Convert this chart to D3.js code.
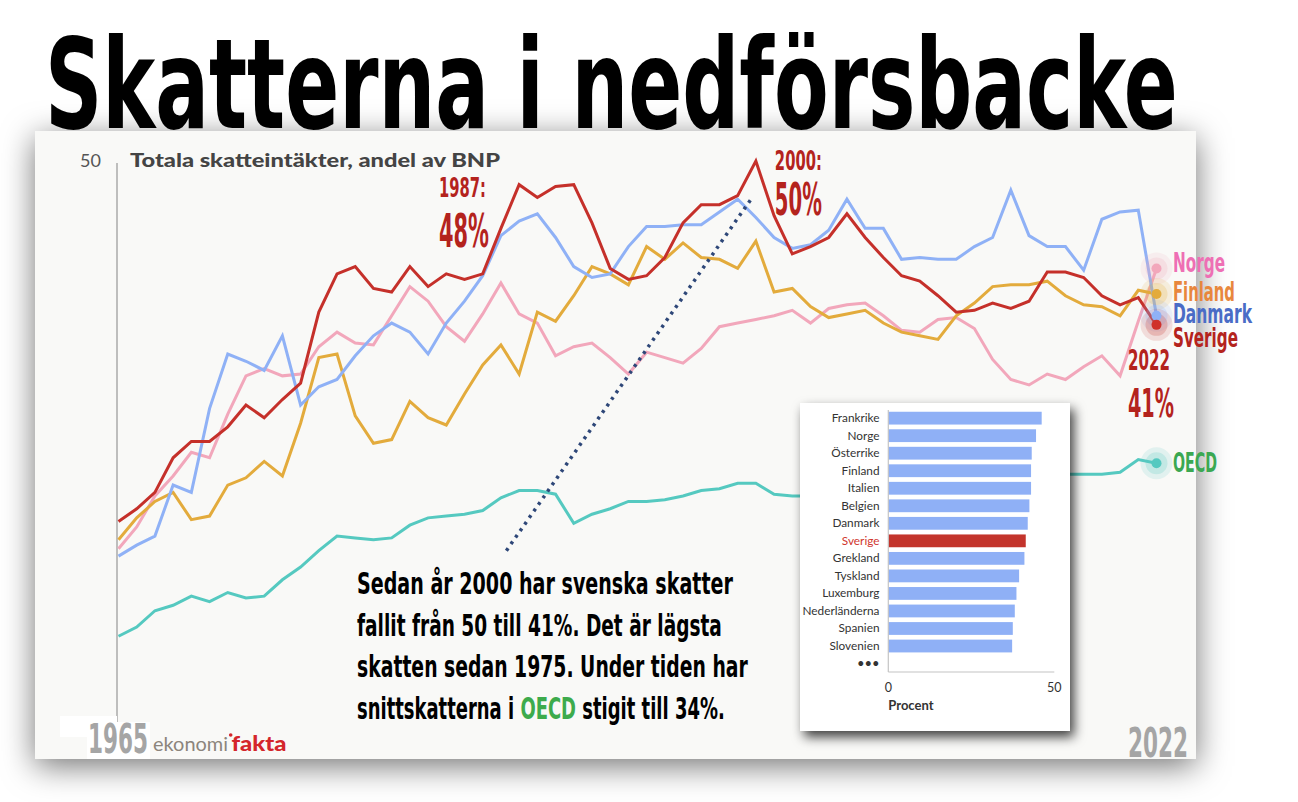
<!DOCTYPE html>
<html lang="sv">
<head>
<meta charset="utf-8">
<title>Skatterna i nedförsbacke</title>
<script src="https://cdn.jsdelivr.net/npm/d3@7"></script>
<style>
  html, body { margin: 0; padding: 0; background: #fff; }
  svg { display: block; }
</style>
</head>
<body>
<svg id="chart" width="1298" height="802"></svg>
<script>
// Totala skatteintäkter, andel av BNP (%), 1965-2022
const years = d3.range(1965, 2023);

const sverige = [30.2, 30.9, 31.8, 33.7, 34.6, 34.6, 35.4, 36.6, 35.9, 36.9,
                 37.8, 41.7, 43.8, 44.2, 43.0, 42.8, 44.2, 43.1, 43.8, 43.5,
                 43.8, 46.3, 48.7, 48.0, 48.6, 48.7, 46.6, 44.1, 43.5, 43.7,
                 44.7, 46.6, 47.6, 47.6, 48.1, 50.0, 47.0, 44.9, 45.3, 45.8,
                 47.1, 45.8, 44.7, 43.7, 43.4, 42.6, 41.7, 41.8, 42.2, 41.9,
                 42.3, 43.9, 43.9, 43.6, 42.6, 42.1, 42.5, 41.0];
const danmark = [28.3, 28.9, 29.4, 32.2, 31.8, 36.4, 39.4, 39.0, 38.5, 40.4,
                 36.6, 37.6, 38.0, 39.3, 40.4, 41.1, 40.6, 39.4, 41.1, 42.3,
                 43.7, 45.9, 46.7, 47.1, 45.8, 44.2, 43.6, 43.8, 45.3, 46.4,
                 46.4, 46.5, 46.5, 47.2, 47.9, 46.9, 45.8, 45.2, 45.4, 46.2,
                 47.9, 46.3, 46.3, 44.6, 44.7, 44.6, 44.6, 45.3, 45.8, 48.4,
                 45.9, 45.3, 45.3, 44.0, 46.8, 47.2, 47.3, 41.5];
const norge = [28.7, 29.9, 31.6, 32.7, 34.0, 33.7, 36.1, 38.2, 38.6, 38.2,
               38.3, 39.8, 40.6, 40.0, 39.9, 41.5, 43.1, 42.3, 40.9, 40.1,
               41.6, 43.3, 41.6, 41.1, 39.3, 39.8, 40.0, 39.2, 38.3, 39.5,
               39.2, 38.9, 39.7, 40.9, 41.1, 41.3, 41.5, 41.8, 41.1, 41.9,
               42.1, 42.2, 41.5, 40.7, 40.6, 41.3, 41.4, 40.8, 39.1, 38.0,
               37.7, 38.3, 38.0, 38.7, 39.3, 38.2, 41.2, 44.1];
const finland = [29.2, 30.4, 31.3, 31.8, 30.3, 30.5, 32.2, 32.6, 33.5, 32.7,
                 35.6, 39.2, 39.4, 36.0, 34.5, 34.7, 36.8, 35.9, 35.5, 37.2,
                 38.8, 39.9, 38.3, 41.7, 41.2, 42.6, 44.2, 43.8, 43.2, 45.3,
                 44.6, 45.5, 44.7, 44.6, 44.1, 45.6, 42.8, 43.0, 42.0, 41.4,
                 41.6, 41.8, 41.1, 40.6, 40.4, 40.2, 41.5, 42.2, 43.1, 43.2,
                 43.2, 43.4, 42.6, 42.1, 42.0, 41.5, 42.9, 42.7];
const oecd = [23.9, 24.4, 25.3, 25.6, 26.1, 25.8, 26.3, 26.0, 26.1, 27.0,
              27.7, 28.6, 29.4, 29.3, 29.2, 29.3, 30.0, 30.4, 30.5, 30.6,
              30.8, 31.5, 31.9, 31.9, 31.7, 30.1, 30.6, 30.9, 31.3, 31.3,
              31.4, 31.6, 31.9, 32.0, 32.3, 32.3, 31.7, 31.6, 31.6, 31.7,
              32.0, 32.2, 32.2, 31.9, 31.4, 31.5, 31.7, 32.0, 32.2, 32.4,
              32.5, 32.6, 32.8, 32.8, 32.8, 32.9, 33.6, 33.4];

// infälld stapel: skatteintäkter 2022, procent av BNP
const barCountries = ['Frankrike', 'Norge', 'Österrike', 'Finland', 'Italien', 'Belgien', 'Danmark',
                      'Sverige', 'Grekland', 'Tyskland', 'Luxemburg', 'Nederländerna', 'Spanien', 'Slovenien'];
const barValues = [46.2, 44.5, 43.2, 43.0, 43.0, 42.5, 42.0, 41.4, 41.0, 39.4, 38.6, 38.1, 37.5, 37.3];
const barTicks = [0, 50];
const yTicks = [50];

// dotted trend arrow, in (year, percent)
const trendLine = [[1986.3, 28.6], [1999.8, 48.0]];

const COND = '"DejaVu Sans Condensed", "Liberation Sans Narrow", "Arial Narrow", sans-serif';
const SANS = 'Lato, "Open Sans", sans-serif';

const svg = d3.select('#chart');

const defs = svg.append('defs');
defs.append('filter')
    .attr('id', 'cardShadow')
    .attr('x', '-15%').attr('y', '-25%').attr('width', '130%').attr('height', '150%')
  .append('feDropShadow')
    .attr('dx', 0).attr('dy', 7).attr('stdDeviation', 16)
    .attr('flood-color', '#000').attr('flood-opacity', 0.55);
defs.append('filter')
    .attr('id', 'insetShadow')
    .attr('x', '-20%').attr('y', '-20%').attr('width', '150%').attr('height', '150%')
  .append('feDropShadow')
    .attr('dx', 4).attr('dy', 6).attr('stdDeviation', 6)
    .attr('flood-color', '#000').attr('flood-opacity', 0.75);

// condensed headline text: drawn at natural width, then squeezed to w
function condText(g, parts, x, y, size, w, fill) {
    const t = g.append('text')
        .attr('font-family', COND)
        .attr('font-weight', 'bold')
        .attr('font-size', size)
        .attr('fill', fill);
    (typeof parts === 'string' ? [[parts, fill]] : parts).forEach(([s, c]) => {
        t.append('tspan').attr('fill', c).text(s);
    });
    const len = t.node().getComputedTextLength();
    t.attr('transform', `translate(${x},${y}) scale(${w / len},1)`);
    return t;
}

// card
svg.append('rect')
    .attr('x', 35).attr('y', 131)
    .attr('width', 1161).attr('height', 628)
    .attr('fill', '#f9f9f7')
    .attr('filter', 'url(#cardShadow)');

// title
condText(svg, 'Skatterna i nedförsbacke', 45, 128, 125, 1133, '#000');

const x = d3.scaleLinear().domain([1965, 2022]).range([118.5, 1156.5]);
const y = d3.scaleLinear().domain([18.2, 50]).range([740, 161]);

// y axis (only the line and the 50 label)
svg.append('line')
    .attr('x1', x(1965) - 1.5).attr('x2', x(1965) - 1.5)
    .attr('y1', y(50) + 2).attr('y2', 722)
    .attr('stroke', '#aaa').attr('stroke-width', 1.5);
svg.selectAll('.ytick')
    .data(yTicks)
    .enter().append('text')
    .attr('class', 'ytick')
    .attr('x', 101).attr('y', d => y(d) + 6)
    .attr('text-anchor', 'end')
    .attr('font-family', SANS)
    .attr('font-size', 18)
    .attr('fill', '#555')
    .text(d => d);

svg.append('text')
    .attr('x', 130).attr('y', 167)
    .attr('font-family', SANS)
    .attr('font-weight', 900)
    .attr('font-size', 19)
    .attr('fill', '#444')
    .attr('textLength', 370)
    .attr('lengthAdjust', 'spacingAndGlyphs')
    .text('Totala skatteintäkter, andel av BNP');

const series = [
    { name: 'OECD', values: oecd, line: '#55c9c0', label: '#3ba852', ly: 472, lw: 44 },
    { name: 'Norge', values: norge, line: '#f2a7bb', label: '#ee6fb4', ly: 272, lw: 52 },
    { name: 'Finland', values: finland, line: '#e3ab3c', label: '#e8873d', ly: 301, lw: 62 },
    { name: 'Danmark', values: danmark, line: '#8fb1f6', label: '#4a6cc6', ly: 323, lw: 79 },
    { name: 'Sverige', values: sverige, line: '#c5302a', label: '#b4231d', ly: 347, lw: 65 }
];

const line = d3.line()
    .x((d, i) => x(years[i]))
    .y(d => y(d));

svg.append('g')
    .selectAll('path')
    .data(series)
    .enter().append('path')
    .attr('d', d => line(d.values))
    .attr('fill', 'none')
    .attr('stroke', d => d.line)
    .attr('stroke-width', 3)
    .attr('stroke-linejoin', 'miter');

// trend arrow
svg.append('line')
    .attr('x1', x(trendLine[0][0])).attr('y1', y(trendLine[0][1]))
    .attr('x2', x(trendLine[1][0])).attr('y2', y(trendLine[1][1]))
    .attr('stroke', '#2e4778')
    .attr('stroke-width', 3.5)
    .attr('stroke-dasharray', '3 5');

// end markers
const last = years.length - 1;
const ends = svg.append('g');
[[16, 0.14], [11, 0.22]].forEach(([r, op]) => {
    ends.selectAll(null)
        .data(series)
        .enter().append('circle')
        .attr('cx', x(2022))
        .attr('cy', d => y(d.values[last]))
        .attr('r', r)
        .attr('fill', d => d.line)
        .attr('opacity', op);
});
ends.selectAll(null)
    .data(series)
    .enter().append('circle')
    .attr('cx', x(2022))
    .attr('cy', d => y(d.values[last]))
    .attr('r', 5)
    .attr('fill', d => d.name === 'Sverige' ? '#d0312b' : d.line);

// series labels
series.forEach(s => {
    condText(svg, s.name, x(2022) + 16.5, s.ly, 26, s.lw, s.label);
});

// callouts
const red = '#b4231d';
condText(svg, '1987:', 439, 197, 27, 47, red);
condText(svg, '48%', 439, 247, 46, 50, red);
condText(svg, '2000:', x(2000) + 19, 170, 27, 47, red);
condText(svg, '50%', x(2000) + 19, 215, 44, 47, red);
condText(svg, '2022', 1128, 370, 29, 42, red);
condText(svg, '41%', 1128, 417, 39, 46, red);

// explanatory text
const para = [
    { t: 'Sedan år 2000 har svenska skatter', w: 376 },
    { t: 'fallit från 50 till 41%. Det är lägsta', w: 365 },
    { t: 'skatten sedan 1975. Under tiden har', w: 391 }
];
para.forEach((p, i) => condText(svg, p.t, 357, 594 + i * 41.5, 30, p.w, '#000'));
condText(svg, [['snittskatterna i ', '#000'], ['OECD', '#3dab4c'], [' stigit till 34%.', '#000']],
         357, 594 + 3 * 41.5, 30, 368, '#000');

// inset bar chart
const inset = svg.append('g');
inset.append('rect')
    .attr('x', 800).attr('y', 403)
    .attr('width', 270).attr('height', 328)
    .attr('fill', '#fff')
    .attr('filter', 'url(#insetShadow)');

const bx = d3.scaleLinear().domain([0, 50]).range([888.3, 1054.3]);
const by = d3.scaleBand()
    .domain(barCountries.concat(['•••']))
    .range([410, 671.7])
    .paddingInner(0.27)
    .paddingOuter(0.1);

inset.selectAll('.bar')
    .data(barCountries)
    .enter().append('rect')
    .attr('class', 'bar')
    .attr('x', bx(0))
    .attr('y', d => by(d))
    .attr('width', (d, i) => bx(barValues[i]) - bx(0))
    .attr('height', by.bandwidth())
    .attr('fill', d => d === 'Sverige' ? '#c3342c' : '#8fb0f6');

inset.selectAll('.blabel')
    .data(by.domain())
    .enter().append('text')
    .attr('class', 'blabel')
    .attr('x', 879.5)
    .attr('y', d => by(d) + by.bandwidth() / 2 + 4)
    .attr('text-anchor', 'end')
    .attr('font-family', SANS)
    .attr('font-size', d => d === '•••' ? 13 : 11.8)
    .attr('fill', d => d === 'Sverige' ? '#d0352d' : '#333')
    .text(d => d);

inset.append('line')
    .attr('x1', bx(0)).attr('x2', bx(0))
    .attr('y1', 410).attr('y2', 672)
    .attr('stroke', '#c4c4c4').attr('stroke-width', 1.2);
inset.append('line')
    .attr('x1', bx(0)).attr('x2', bx(50))
    .attr('y1', 672).attr('y2', 672)
    .attr('stroke', '#c4c4c4').attr('stroke-width', 1.2);
inset.selectAll('.btick')
    .data(barTicks)
    .enter().append('text')
    .attr('class', 'btick')
    .attr('x', d => bx(d))
    .attr('y', 692)
    .attr('text-anchor', 'middle')
    .attr('font-family', SANS)
    .attr('font-size', 12.5)
    .attr('fill', '#333')
    .text(d => d);
inset.append('text')
    .attr('x', bx(0)).attr('y', 710)
    .attr('font-family', SANS)
    .attr('font-weight', 'bold')
    .attr('font-size', 13)
    .attr('fill', '#333')
    .text('Procent');

// bottom: years and logo
svg.append('rect').attr('x', 60).attr('y', 716).attr('width', 57).attr('height', 21).attr('fill', '#fff');
svg.append('rect').attr('x', 87).attr('y', 722).attr('width', 63).attr('height', 37).attr('fill', '#fff');
condText(svg, '1965', 88, 753, 41, 60, '#a5a5a5');
condText(svg, '2022', 1128, 757, 41, 60, '#a5a5a5');

svg.append('text')
    .attr('x', 153).attr('y', 750.5)
    .attr('font-family', SANS)
    .attr('font-size', 20)
    .attr('fill', '#8c857c')
    .attr('textLength', 75)
    .attr('lengthAdjust', 'spacingAndGlyphs')
    .text('ekonomi');
svg.append('text')
    .attr('x', 231.5).attr('y', 750.5)
    .attr('font-family', SANS)
    .attr('font-weight', 900)
    .attr('font-size', 20)
    .attr('fill', '#d4262c')
    .attr('textLength', 55)
    .attr('lengthAdjust', 'spacingAndGlyphs')
    .text('fakta');
svg.append('circle').attr('cx', 230.7).attr('cy', 735).attr('r', 1.8).attr('fill', '#d4262c');
</script>
</body>
</html>
